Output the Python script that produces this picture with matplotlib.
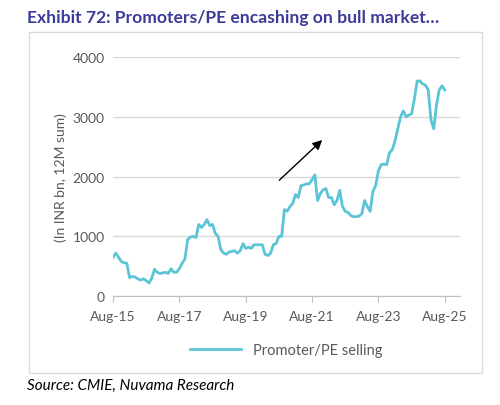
import matplotlib

matplotlib.use("Agg")
import matplotlib.pyplot as plt
from matplotlib.patches import Rectangle

plt.rcParams["font.family"] = ["Lato", "DejaVu Sans"]

# monthly values, Aug-15 .. Aug-25 (INR bn, 12M sum)
selling = [
    650, 720, 650, 580, 560, 550, 310, 330, 320, 290, 270, 290, 260, 220, 300, 450,
    400, 380, 390, 400, 380, 460, 400, 400, 460, 550, 620, 950, 990, 1000, 980, 1200,
    1150, 1200, 1280, 1180, 1200, 1050, 1000, 780, 720, 700, 740, 750, 760, 720, 760, 880,
    800, 820, 800, 860, 860, 860, 860, 700, 680, 720, 860, 880, 1000, 1000, 1450, 1420,
    1500, 1550, 1700, 1650, 1850, 1860, 1880, 1880, 1950, 2030, 1600, 1720, 1780, 1800, 1650, 1650,
    1530, 1600, 1770, 1500, 1420, 1400, 1350, 1330, 1330, 1340, 1380, 1600, 1500, 1420, 1750, 1850,
    2100, 2200, 2210, 2200, 2400, 2450, 2600, 2800, 3000, 3100, 3000, 3030, 3050, 3300, 3600, 3600,
    3550, 3530, 3450, 2950, 2800, 3200, 3450, 3520, 3450,
]
months = list(range(len(selling)))
tick_pos = [0, 24, 48, 72, 96, 120]
tick_labels = ["Aug-15", "Aug-17", "Aug-19", "Aug-21", "Aug-23", "Aug-25"]

fig = plt.figure(figsize=(5.0, 4.06), dpi=100)
fig.text(0.054, 0.955, "Exhibit 72: Promoters/PE encashing on bull market…",
         fontsize=12.6, fontweight="bold", color="#3B3B98", va="center")
fig.text(0.054, 0.05, "Source: CMIE, Nuvama Research", fontsize=11,
         style="italic", color="black", va="center")
fig.patches.append(Rectangle((0.057, 0.078), 0.907, 0.84, transform=fig.transFigure,
                             fill=False, edgecolor="#D9D9D9", lw=1))

ax = fig.add_axes([0.226, 0.268, 0.694, 0.589])
ax.plot(months, selling, color="#5BC4D6", lw=2, label="Promoter/PE selling")
ax.set_xlim(0, 125.5)
ax.set_ylim(0, 4000)
ax.set_yticks([0, 1000, 2000, 3000, 4000])
ax.set_xticks(tick_pos)
ax.set_xticklabels(tick_labels)
ax.tick_params(axis="both", labelsize=10, colors="#595959", length=0, pad=6)
ax.tick_params(axis="x", length=4, color="#BFBFBF", direction="out")
ax.grid(axis="y", color="#D9D9D9", lw=1)
for s in ["top", "right", "left"]:
    ax.spines[s].set_visible(False)
ax.spines["bottom"].set_color("#BFBFBF")
ax.set_ylabel("(In INR bn, 12M sum)", fontsize=10, color="#595959")

ax.annotate("", xy=(76.4, 2644), xytext=(59.4, 1908),
            arrowprops=dict(arrowstyle="-|>", color="black", lw=1, mutation_scale=14))

ax.legend(loc="upper center", bbox_to_anchor=(0.5, -0.14), frameon=False,
          fontsize=10.5, labelcolor="#595959", handlelength=3.5)

fig.savefig("out.png", dpi=100)
